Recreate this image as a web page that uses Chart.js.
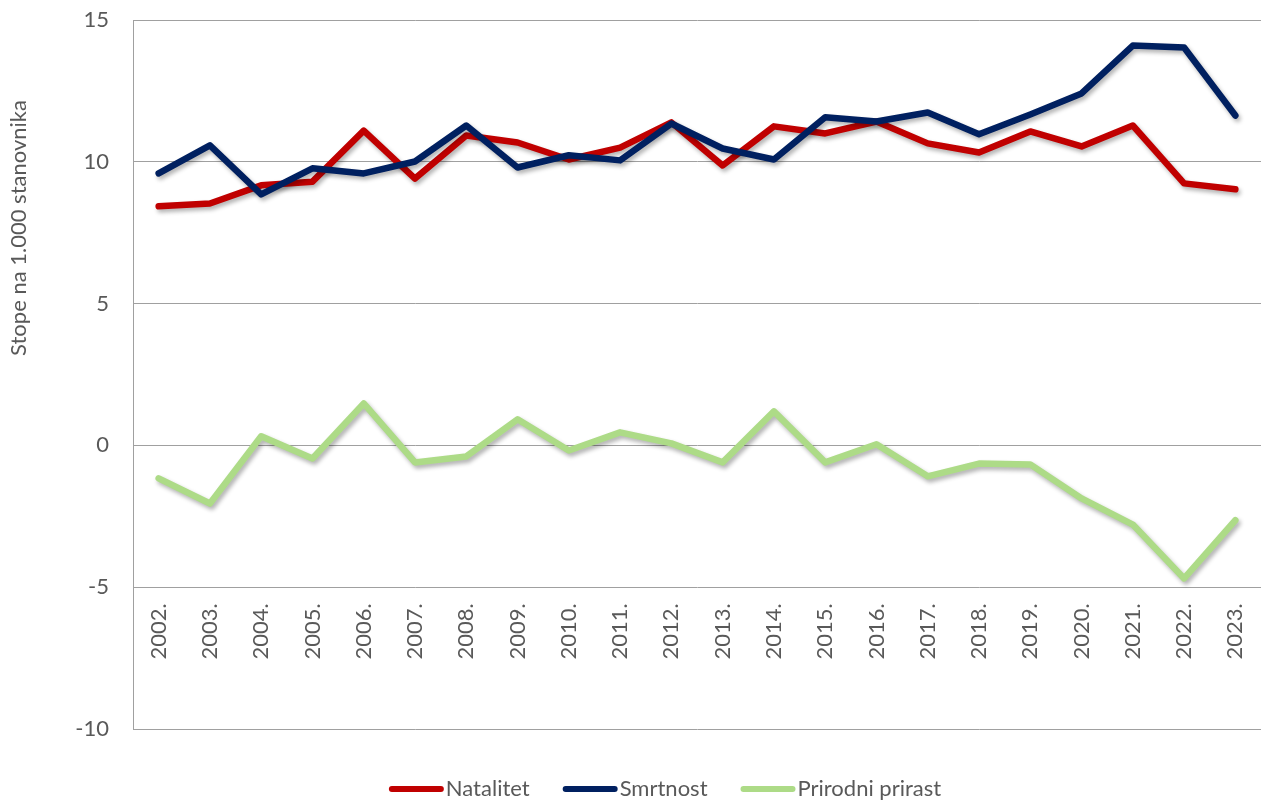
<!DOCTYPE html>
<html>
<head>
<meta charset="utf-8">
<script src="https://cdn.jsdelivr.net/npm/chart.js@4.4.1/dist/chart.umd.min.js"></script>
<style>
  html, body { margin: 0; padding: 0; background: #fff; }
  #wrap { width: 1261px; height: 802px; position: relative; }
</style>
</head>
<body>
<div id="wrap"><canvas id="c"></canvas></div>
<script>
// Data
const years = ['2002.', '2003.', '2004.', '2005.', '2006.', '2007.', '2008.', '2009.', '2010.', '2011.', '2012.',
  '2013.', '2014.', '2015.', '2016.', '2017.', '2018.', '2019.', '2020.', '2021.', '2022.', '2023.'];
const natalitet = [8.43, 8.53, 9.17, 9.3, 11.1, 9.41, 10.93, 10.68, 10.08, 10.5, 11.39,
  9.87, 11.25, 11.0, 11.42, 10.65, 10.33, 11.07, 10.54, 11.28, 9.24, 9.03];
const smrtnost = [9.59, 10.58, 8.85, 9.77, 9.59, 10.01, 11.28, 9.8, 10.23, 10.05, 11.35,
  10.47, 10.08, 11.57, 11.42, 11.74, 10.97, 11.67, 12.41, 14.1, 14.03, 11.63];
const prirast = [-1.16, -2.05, 0.32, -0.46, 1.48, -0.6, -0.39, 0.92, -0.18, 0.46, 0.07,
  -0.6, 1.2, -0.6, 0.04, -1.09, -0.64, -0.67, -1.87, -2.79, -4.69, -2.64];
const seriesNames = ['Natalitet', 'Smrtnost', 'Prirodni prirast'];
const yTitle = 'Stope na 1.000 stanovnika';

const colors = {
  red: '#C00000',
  navy: '#002060',
  green: '#ADDB87',
  text: '#595959',
  grid: '#a0a0a0'
};
const FONT = 'Lato';

// soft drop shadow under each line, like the Office effect
const lineShadow = {
  id: 'lineShadow',
  beforeDatasetDraw(chart) {
    const ctx = chart.ctx;
    ctx.save();
    ctx.shadowColor = 'rgba(0,0,0,0.3)';
    ctx.shadowBlur = 4;
    ctx.shadowOffsetX = 2;
    ctx.shadowOffsetY = 3;
  },
  afterDatasetDraw(chart) {
    chart.ctx.restore();
  }
};

// y-axis title, placed where the reference has it
const axisTitle = {
  id: 'axisTitle',
  afterDraw(chart) {
    const ctx = chart.ctx;
    ctx.save();
    ctx.translate(19, 228);
    ctx.rotate(-Math.PI / 2);
    ctx.font = '22px ' + FONT;
    ctx.fillStyle = colors.text;
    ctx.textAlign = 'center';
    ctx.textBaseline = 'middle';
    ctx.fillText(yTitle, 0, 0);
    ctx.restore();
  }
};

// legend with long line samples and a tight gap to the text
const lineLegend = {
  id: 'lineLegend',
  afterDraw(chart) {
    const ctx = chart.ctx;
    const sample = 55, gap = 2, between = 33, y = 789;
    ctx.save();
    ctx.font = '22px ' + FONT;
    const items = chart.data.datasets.map(ds => ({
      label: ds.label, color: ds.borderColor, w: ctx.measureText(ds.label).width
    }));
    let total = 0;
    items.forEach((it, i) => { total += sample + gap + it.w + (i ? between : 0); });
    let x = 665 - total / 2;
    items.forEach(it => {
      ctx.strokeStyle = it.color;
      ctx.lineWidth = 6;
      ctx.lineCap = 'round';
      ctx.beginPath();
      ctx.moveTo(x + 3, y);
      ctx.lineTo(x + sample - 3, y);
      ctx.stroke();
      ctx.fillStyle = colors.text;
      ctx.textBaseline = 'middle';
      ctx.fillText(it.label, x + sample + gap, y);
      x += sample + gap + it.w + between;
    });
    ctx.restore();
  }
};

function lineSet(label, data, color, order) {
  return {
    label: label,
    data: data,
    borderColor: color,
    backgroundColor: color,
    borderWidth: 6.5,
    pointRadius: 0,
    tension: 0,
    borderCapStyle: 'round',
    borderJoinStyle: 'round',
    order: order
  };
}

new Chart(document.getElementById('c'), {
  type: 'line',
  data: {
    labels: years,
    datasets: [
      lineSet(seriesNames[0], natalitet, colors.red, 3),
      lineSet(seriesNames[1], smrtnost, colors.navy, 2),
      lineSet(seriesNames[2], prirast, colors.green, 1)
    ]
  },
  options: {
    responsive: true,
    maintainAspectRatio: false,
    animation: false,
    layout: { padding: { left: 0, right: -4, top: 20, bottom: 73 } },
    plugins: {
      legend: { display: false },
      tooltip: { enabled: false }
    },
    scales: {
      x: {
        type: 'category',
        position: { y: -5 },
        offset: true,
        grid: { display: false },
        border: { display: false },
        ticks: {
          color: colors.text,
          font: { family: FONT, size: 22 },
          minRotation: 90,
          maxRotation: 90,
          padding: 8,
          autoSkip: false
        },
        afterFit(scale) {
          scale.paddingLeft = 0;
          scale.paddingRight = 0;
          scale.paddingTop = 0;
          scale.paddingBottom = 0;
        }
      },
      y: {
        min: -10,
        max: 15,
        grid: { color: colors.grid, lineWidth: 1, drawTicks: false },
        border: { display: true, color: colors.grid, width: 1 },
        ticks: {
          stepSize: 5,
          color: colors.text,
          font: { family: FONT, size: 22 },
          padding: 24
        },
        afterFit(scale) {
          scale.width = 133;
          scale.paddingTop = 0;
          scale.paddingBottom = 0;
        }
      }
    }
  },
  plugins: [lineShadow, axisTitle, lineLegend]
});
</script>
</body>
</html>
